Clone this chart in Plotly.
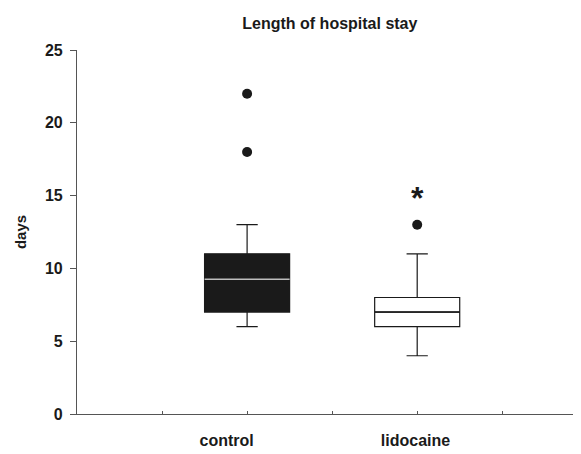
import plotly.graph_objects as go

groups = ["control", "lidocaine"]
group_pos = [1, 2]
label_pos = [0.88, 1.99]
q1 = [7, 6]
median = [9.25, 7]
q3 = [11, 8]
lower_whisker = [6, 4]
upper_whisker = [13, 11]
outlier_x = [1, 1, 2]
outlier_y = [22, 18, 13]
signif_x = [2]
signif_y = [14.6]
signif_text = ["*"]
fills = ["#1a1a1a", "white"]
median_colors = ["#bdbdbd", "#1a1a1a"]
minor_ticks = [0.5, 1, 1.5, 2, 2.5, 3]

box_width = 0.5
font_family = "Liberation Sans, Arial, sans-serif"

fig = go.Figure()
for i, g in enumerate(groups):
    fig.add_trace(go.Box(
        x=[group_pos[i]], q1=[q1[i]], median=[median[i]], q3=[q3[i]],
        lowerfence=[lower_whisker[i]], upperfence=[upper_whisker[i]],
        width=box_width, whiskerwidth=0.25, fillcolor=fills[i],
        line=dict(color="#1a1a1a", width=1.2), boxpoints=False,
        name=g, showlegend=False, hoverinfo="skip",
    ))
    fig.add_trace(go.Scatter(
        x=[group_pos[i] - box_width / 2, group_pos[i] + box_width / 2],
        y=[median[i], median[i]], mode="lines",
        line=dict(color=median_colors[i], width=1.5),
        showlegend=False, hoverinfo="skip",
    ))

fig.add_trace(go.Scatter(
    x=outlier_x, y=outlier_y, mode="markers",
    marker=dict(color="#1a1a1a", size=10), showlegend=False,
))
fig.add_trace(go.Scatter(
    x=signif_x, y=signif_y, mode="text", text=signif_text,
    textfont=dict(size=32, color="#1a1a1a", family=font_family, weight="bold"),
    showlegend=False,
))

fig.update_layout(
    width=581, height=454,
    margin=dict(l=69, r=0, t=42, b=48),
    plot_bgcolor="white", paper_bgcolor="white",
    font=dict(family=font_family, color="#1a1a1a", size=15, weight="bold"),
    title=dict(text="Length of hospital stay", x=0.554, xanchor="center", y=0.967,
               yanchor="middle", font=dict(size=16, weight="bold", family=font_family)),
    xaxis=dict(range=[0, 3.01], tickvals=label_pos, ticktext=groups,
               showgrid=False, zeroline=False, showline=True, linecolor="#555",
               linewidth=1.2, ticks="", ticklabelstandoff=12,
               minor=dict(tickvals=minor_ticks, ticks="inside", ticklen=3,
                          tickcolor="#555", showgrid=False),
               tickfont=dict(size=16, weight="bold")),
    yaxis=dict(range=[0, 25], tickvals=[0, 5, 10, 15, 20, 25],
               showgrid=False, zeroline=False, showline=True, linecolor="#555",
               linewidth=1.2, ticks="outside", ticklen=6, tickcolor="#555",
               ticklabelstandoff=4,
               tickfont=dict(size=16, weight="bold"),
               title=dict(text="days", standoff=14, font=dict(size=15, weight="bold"))),
)

fig.write_html("out.html")
